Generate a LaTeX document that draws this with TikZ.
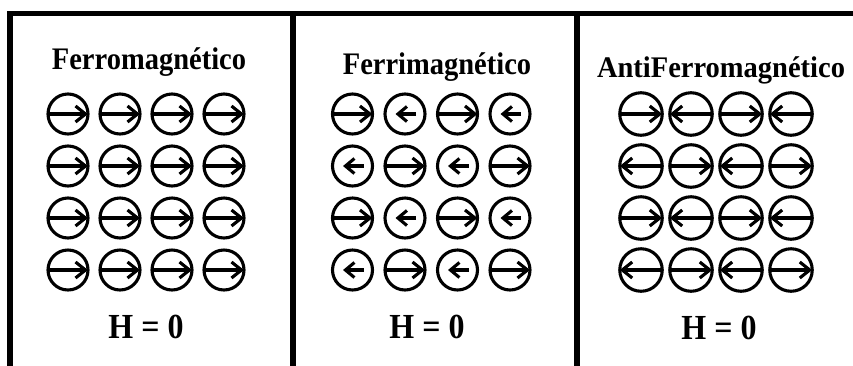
\documentclass[tikz,border=0pt]{standalone}
\usepackage{fontspec}
\setmainfont{Liberation Serif}
\usetikzlibrary{arrows.meta}
\begin{document}
\begin{tikzpicture}[x=1pt,y=-1pt,
  frame/.style={line width=5.5pt,line cap=rect},
  spin/.style={circle,draw,line width=3.1pt,minimum size=40pt,inner sep=0pt,outer sep=0pt},
  spinwide/.style={spin,minimum size=42.5pt},
  longarr/.style={line width=3.1pt,-{Straight Barb[length=10pt,width=16pt,line width=3.1pt]}},
  shortarr/.style={line width=3.1pt,-{Straight Barb[length=9pt,width=15pt,line width=3.1pt]}},
  title/.style={font=\fontsize{28.5}{30}\selectfont\bfseries,anchor=base,inner sep=0pt},
  field/.style={font=\fontsize{32}{34}\selectfont\bfseries,anchor=base,inner sep=0pt}]
\useasboundingbox (0,0) rectangle (853,365);
% frame
\coordinate (tl) at (10,13.5);
\coordinate (tr) at (853,13.5);
\coordinate (bl) at (10,365);
\coordinate (d1t) at (293,13.5);
\coordinate (d1b) at (293,365);
\coordinate (d2t) at (577,13.5);
\coordinate (d2b) at (577,365);
\draw[frame] (bl) -- (tl) -- (tr);
\draw[frame] (d1t) -- (d1b);
\draw[frame] (d2t) -- (d2b);
% titles
\node[title] (t1) at (149,69) {\scalebox{1}[1.1]{Ferromagnético}};
\node[title] (t2) at (437,74) {\scalebox{1}[1.1]{Ferrimagnético}};
\node[title] (t3) at (721,77) {\scalebox{1}[1.05]{AntiFerromagnético}};
% fields
\node[field] (h1) at (146,338) {\scalebox{1}[1.1]{H = 0}};
\node[field] (h2) at (427,338) {\scalebox{1}[1.1]{H = 0}};
\node[field] (h3) at (719,339) {\scalebox{1}[1.1]{H = 0}};
% Ferromagnetic
\foreach \r in {1,...,4}{
  \foreach \c in {1,...,4}{
    \node[spin] (f-\r-\c) at ({68+52*(\c-1)},{114+52*(\r-1)}) {};
    \draw[longarr] (f-\r-\c.west) -- (f-\r-\c.east);
  }
}
% Ferrimagnetic
\foreach \r in {1,...,4}{
  \foreach \c in {1,...,4}{
    \node[spin] (m-\r-\c) at ({352.5+52.5*(\c-1)},{114+52*(\r-1)}) {};
    \pgfmathtruncatemacro{\parity}{mod(\r+\c,2)}
    \ifnum\parity=0
      \draw[longarr] (m-\r-\c.west) -- (m-\r-\c.east);
    \else
      \draw[shortarr] ([xshift=11pt]m-\r-\c.center) -- ([xshift=-9.5pt]m-\r-\c.center);
    \fi
  }
}
% Antiferromagnetic
\foreach \r in {1,...,4}{
  \foreach \c in {1,...,4}{
    \node[spinwide] (a-\r-\c) at ({641+50*(\c-1)},{114+52*(\r-1)}) {};
    \pgfmathtruncatemacro{\parity}{mod(\r+\c,2)}
    \ifnum\parity=0
      \draw[longarr] (a-\r-\c.west) -- (a-\r-\c.east);
    \else
      \draw[longarr] (a-\r-\c.east) -- (a-\r-\c.west);
    \fi
  }
}
\end{tikzpicture}
\end{document}
